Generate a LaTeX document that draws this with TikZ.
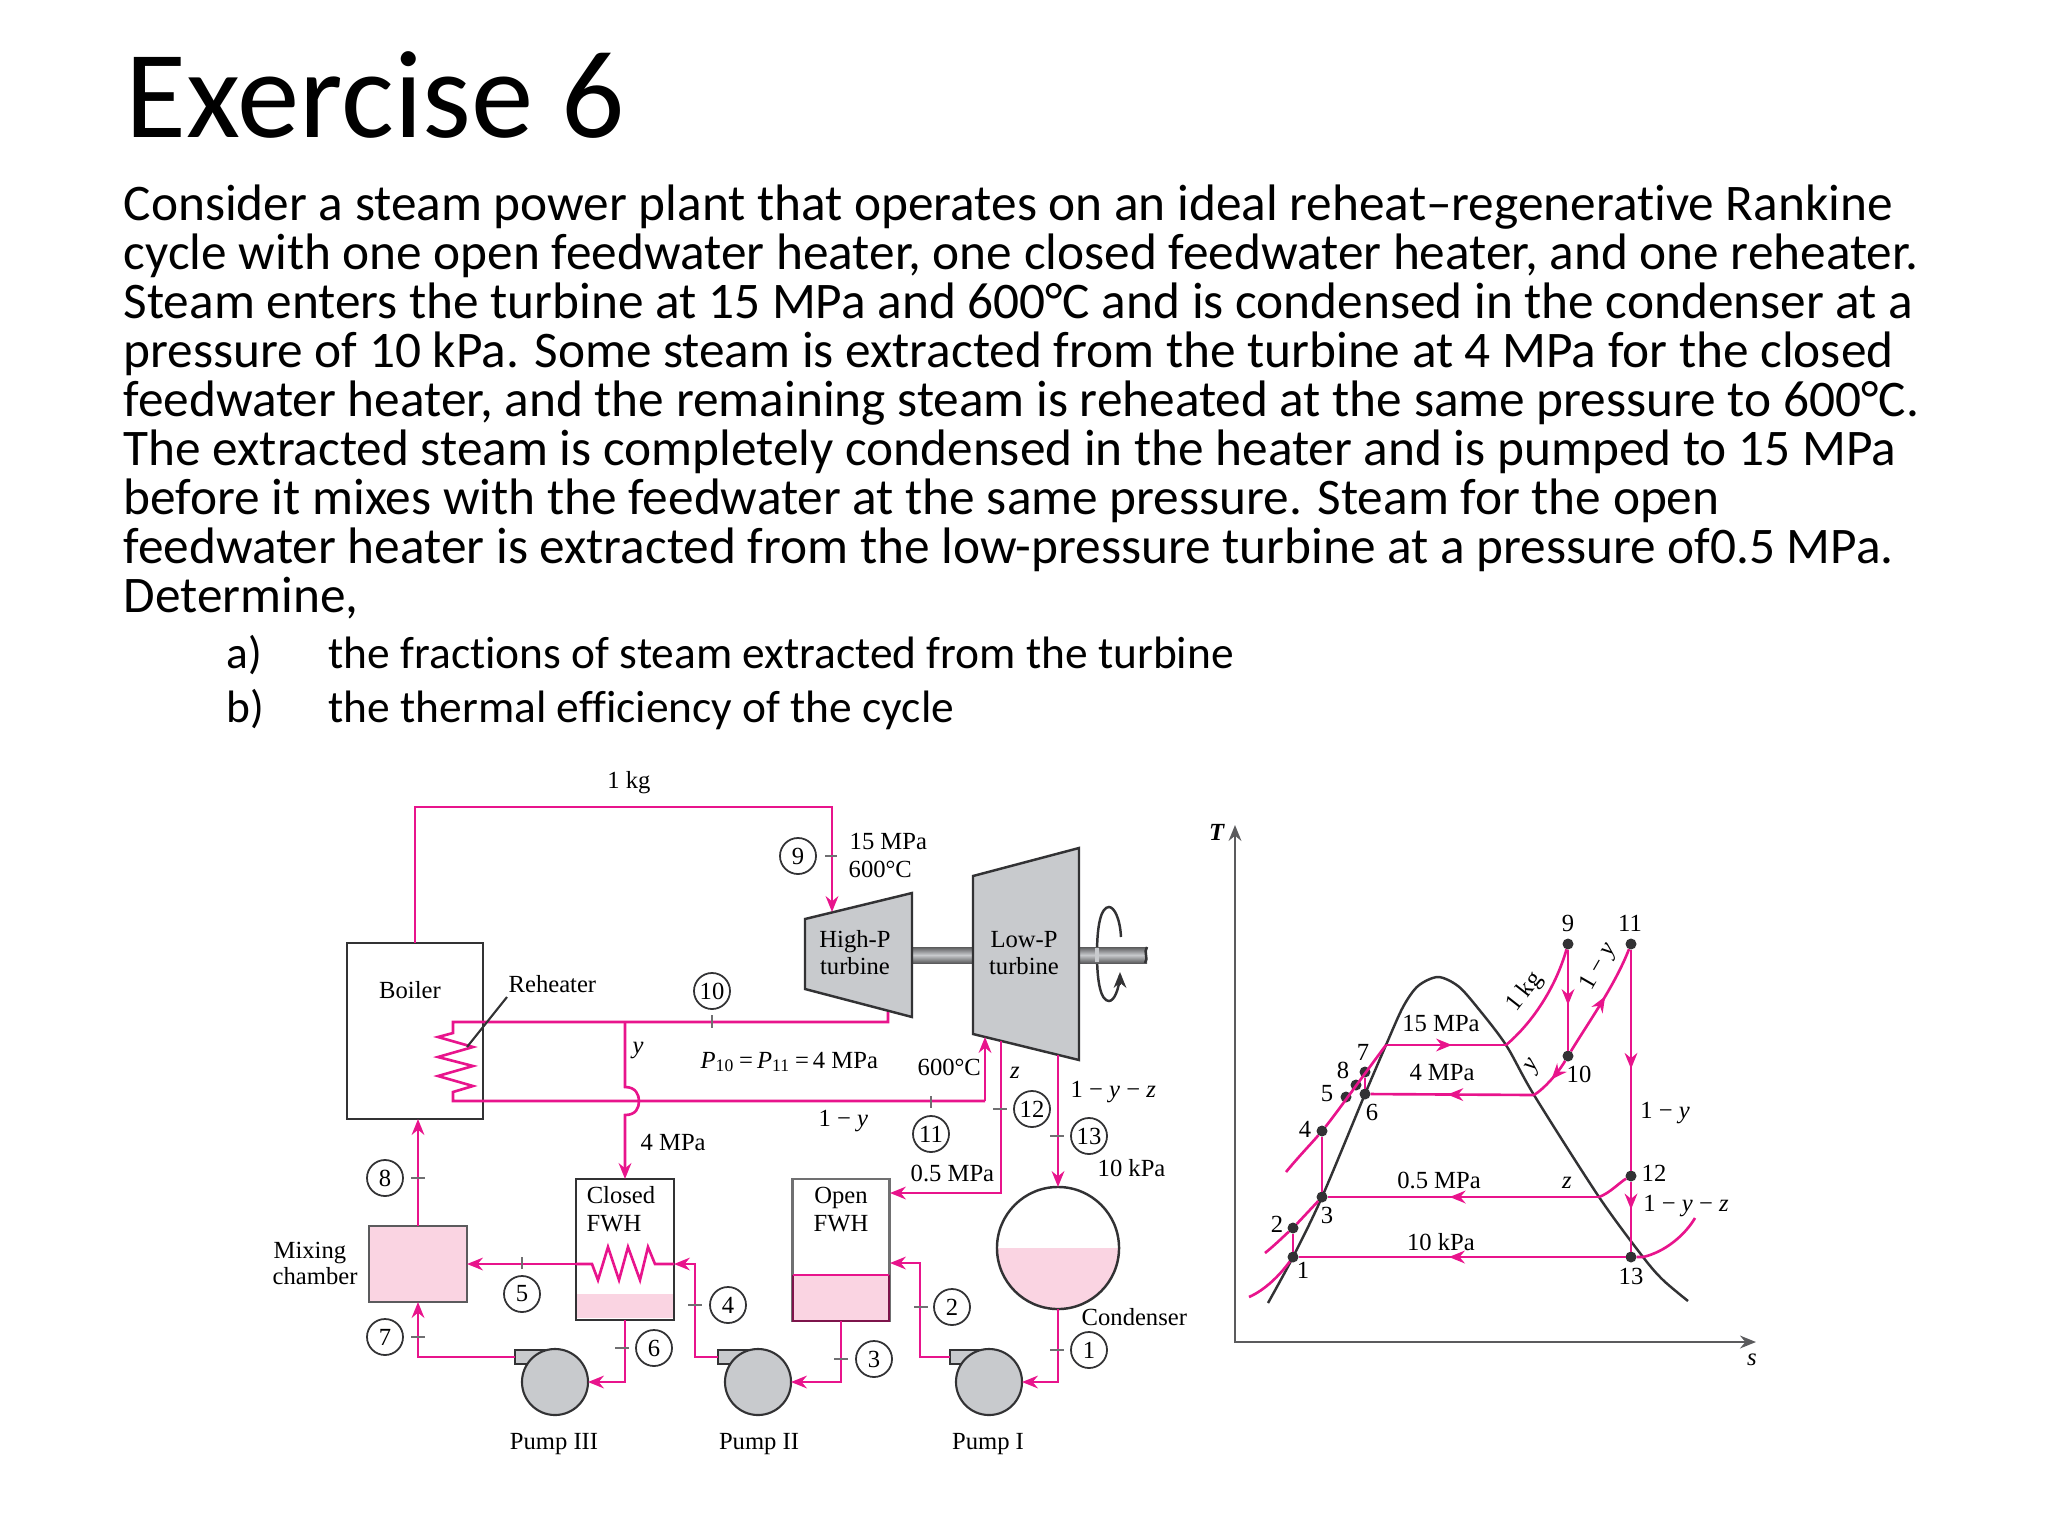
\documentclass[tikz,border=0pt]{standalone}
\usepackage{fontspec}
\setmainfont{Carlito}[Ligatures=NoCommon]
\newfontfamily\figfont{Liberation Serif}
\usetikzlibrary{arrows.meta,decorations.markings}
\definecolor{cpipe}{RGB}{232,20,140}
\definecolor{cpink}{RGB}{250,212,226}
\definecolor{cgris}{RGB}{200,202,205}
\definecolor{cdark}{RGB}{50,50,52}
\definecolor{cwine}{RGB}{125,20,75}
\tikzset{
  pipe/.style={cpipe,line width=0.75pt},
  eqbox/.style={draw=cdark,line width=0.7pt,rectangle,inner sep=0,outer sep=0},
  lbl/.style={inner sep=0,font=\figfont\fontsize{7}{8}\selectfont},
  stnum/.style={circle,draw=cdark,line width=0.5pt,minimum size=0.36cm,inner sep=0,font=\figfont\fontsize{7}{8}\selectfont},
  tick/.style={cdark!70,line width=0.7pt},
  tsdot/.style={circle,fill=cdark,minimum size=0.11cm,inner sep=0,outer sep=0},
  midarrow/.style={postaction={decorate},decoration={markings,mark=at position #1 with {\arrow{Stealth[length=4.5pt,width=3.6pt]}}}}
}
\begin{document}
\begin{tikzpicture}[x=0.01cm,y=-0.01cm,>={Stealth[length=4.5pt,width=3.6pt]}]
\useasboundingbox (0,0) rectangle (2048,1536);
% slide text
\node[anchor=base west,inner sep=0,font=\fontsize{35.5}{40}\selectfont] (title) at (125,137) {Exercise 6};
\node[anchor=north west,inner sep=0,align=left,font=\fontsize{14.59}{13.93}\selectfont] (body) at (123,184) {Consider a steam power plant that operates on an ideal reheat--regenerative Rankine\\
cycle with one open feedwater heater, one closed feedwater heater, and one reheater.\\
Steam enters the turbine at 15 MPa and 600°C and is condensed in the condenser at a\\
pressure of 10 kPa. Some steam is extracted from the turbine at 4 MPa for the closed\\
feedwater heater, and the remaining steam is reheated at the same pressure to 600°C.\\
The extracted steam is completely condensed in the heater and is pumped to 15 MPa\\
before it mixes with the feedwater at the same pressure. Steam for the open\\
feedwater heater is extracted from the low-pressure turbine at a pressure of0.5 MPa.\\
Determine,};
\node[anchor=base west,inner sep=0,font=\fontsize{12.91}{14}\selectfont] (ita) at (226,668) {a)};
\node[anchor=base west,inner sep=0,font=\fontsize{12.91}{14}\selectfont] (itatxt) at (328,668) {the fractions of steam extracted from the turbine};
\node[anchor=base west,inner sep=0,font=\fontsize{12.91}{14}\selectfont] (itb) at (226,722) {b)};
\node[anchor=base west,inner sep=0,font=\fontsize{12.91}{14}\selectfont] (itbtxt) at (328,722) {the thermal efficiency of the cycle};
% equipment
\node[eqbox,minimum width=1.36cm,minimum height=1.76cm] (boiler) at (415,1031) {};
\node[eqbox,fill=cpink,draw=cdark!80,minimum width=0.98cm,minimum height=0.76cm] (mix) at (418,1264) {};
\node[eqbox,minimum width=0.98cm,minimum height=1.41cm] (cfwh) at (625,1249.5) {};
\fill[cpink] (577,1294) rectangle (673,1318);
\node[eqbox,draw=cdark!70,minimum width=0.97cm,minimum height=1.42cm] (ofwh) at (841,1250) {};
\fill[cpink] (793,1275) rectangle (889,1320);
\draw[cwine,line width=0.7pt] (793,1275) |- (889,1321) -- (889,1275);
\draw[pipe] (793,1275) -- (889,1275);
\node[circle,draw=cdark,line width=0.7pt,minimum size=1.22cm,inner sep=0,outer sep=0,path picture={\fill[cpink] (path picture bounding box.west) rectangle (path picture bounding box.south east);}] (cond) at (1058,1248) {};
\node[eqbox,fill=cgris,minimum width=0.4cm,minimum height=0.14cm] (pump3out) at (535,1357) {};
\node[circle,draw=cdark,fill=cgris,line width=0.6pt,minimum size=0.66cm,inner sep=0,outer sep=0] (pump3) at (555,1382) {};
\node[eqbox,fill=cgris,minimum width=0.4cm,minimum height=0.14cm] (pump2out) at (738,1357) {};
\node[circle,draw=cdark,fill=cgris,line width=0.6pt,minimum size=0.66cm,inner sep=0,outer sep=0] (pump2) at (758,1382) {};
\node[eqbox,fill=cgris,minimum width=0.4cm,minimum height=0.14cm] (pump1out) at (970,1357) {};
\node[circle,draw=cdark,fill=cgris,line width=0.6pt,minimum size=0.66cm,inner sep=0,outer sep=0] (pump1) at (989,1382) {};
% turbines and shaft
\shade[top color=cdark!80,bottom color=cdark!80,middle color=cgris] (912,947) rectangle (973,963);
\draw[cdark,line width=0.7pt] (1121,937) .. controls (1120,918) and (1114,907) .. (1109,907) .. controls (1101,907) and (1097,925) .. (1097,954) .. controls (1097,983) and (1101,1001) .. (1109,1001) .. controls (1114,1001) and (1119,990) .. (1120,975);
\draw[cdark,->,line width=0.7pt] (1120,985) -- (1120,972);
\shade[top color=cdark!80,bottom color=cdark!80,middle color=cgris] (1079,947) rectangle (1147,963);
\draw[cdark,line width=0.7pt] (1147,947) .. controls (1143,952) and (1149,958) .. (1145,963);
\draw[cgris,line width=1pt] (1097,948) -- (1097,962);
\draw[fill=cgris,draw=cdark,line width=0.7pt] (805,919) -- (912,893) -- (912,1017) -- (805,989) -- cycle;
\draw[fill=cgris,draw=cdark,line width=0.7pt] (973,876) -- (1079,848) -- (1079,1060) -- (973,1034) -- cycle;
\coordinate (hpin) at (832,912);
\coordinate (hpout) at (888,1012);
\coordinate (lpin) at (985,1037);
\coordinate (lpz) at (1001,1041);
\coordinate (lpex) at (1058,1055);
\coordinate (oin) at (890,1193);
\coordinate (oin2) at (890,1263);
\coordinate (cin) at (674,1264);
\coordinate (cout) at (576,1264);
% pipes
\draw[pipe,->] (boiler.north) |- (hpin |- 0,807) -- (hpin);
\draw[pipe] (hpout) -- (888,1022) -- (453,1022) -- (453,1033) -- (438,1037) -- (473,1047) -- (438,1057) -- (473,1066) -- (438,1076) -- (473,1086) -- (453,1092) -- (453,1101) -- (985,1101);
\draw[pipe,->] (985,1101) -- (lpin);
\draw[pipe,->] (625,1022) -- (625,1087) .. controls (636,1087) and (639,1095) .. (639,1101) .. controls (639,1108) and (636,1115) .. (625,1115) -- (cfwh.north);
\draw[pipe,->] (lpz) |- (oin);
\draw[pipe,->] (lpex) -- (cond.north);
\draw[pipe,->] (cond.south) |- (pump1.east);
\draw[pipe,->] (pump1out.west) -- ++(-30,0) |- (oin2);
\draw[pipe,->] (ofwh.south) |- (pump2.east);
\draw[pipe,->] (pump2out.west) -- ++(-23,0) |- (cin);
\draw[pipe] (cin) -- (655,1264) -- (648,1247) -- (640,1280) -- (628,1247) -- (619,1280) -- (608,1247) -- (598,1280) -- (592,1264) -- (cout);
\draw[pipe,->] (cout) -- (mix.east);
\draw[pipe,->] (cfwh.south) |- (pump3.east);
\draw[pipe,->] (pump3out.west) -| (mix.south);
\draw[pipe,->] (mix.north) -- (mix.north |- boiler.south);
\draw[cdark,line width=0.6pt] (507,997) -- (467,1047);
% state numbers
\node[stnum] (s1) at (1089,1350) {1};
\node[stnum] (s2) at (952,1307) {2};
\node[stnum] (s3) at (874,1359) {3};
\node[stnum] (s4) at (728,1305) {4};
\node[stnum] (s5) at (522,1294) {5};
\node[stnum] (s6) at (654,1348) {6};
\node[stnum] (s7) at (385,1337) {7};
\node[stnum] (s8) at (385,1178) {8};
\node[stnum] (s9) at (798,856) {9};
\node[stnum] (s10) at (712,991) {10};
\node[stnum] (s11) at (931,1134) {11};
\node[stnum] (s12) at (1032,1109) {12};
\node[stnum] (s13) at (1089,1136) {13};
\draw[tick] (1050,1350) -- ++(14,0);
\draw[tick] (914,1307) -- ++(14,0);
\draw[tick] (834,1359) -- ++(14,0);
\draw[tick] (688,1305) -- ++(14,0);
\draw[tick] (522,1257) -- ++(0,12);
\draw[tick] (615,1348) -- ++(14,0);
\draw[tick] (411,1337) -- ++(14,0);
\draw[tick] (411,1178) -- ++(14,0);
\draw[tick] (825,856) -- ++(12,0);
\draw[tick] (712,1015) -- ++(0,13);
\draw[tick] (931,1096) -- ++(0,12);
\draw[tick] (993,1109) -- ++(14,0);
\draw[tick] (1050,1136) -- ++(14,0);
% labels
\node[lbl] (kg) at (629,783) {1 kg};
\node[lbl] (lboiler) at (410,990) {Boiler};
\node[lbl,anchor=base west] (lreh) at (508,992) {Reheater};
\node[lbl,anchor=base west] (lp15) at (849,849) {15 MPa};
\node[lbl,anchor=base west] (lt15) at (848,877) {600°C};
\node[lbl,align=center] (lhp) at (855,953) {High-P\\[-0.3pt]turbine};
\node[lbl,align=center] (llp) at (1024,953) {Low-P\\[-0.3pt]turbine};
\node[lbl] (ly) at (638,1050) {\textit{y}};
\node[lbl,anchor=base west] (lpp) at (700,1068) {\textit{P}\textsubscript{10}\,=\,\textit{P}\textsubscript{11}\,=\,4 MPa};
\node[lbl,anchor=base west] (lt11) at (917,1075) {600°C};
\node[lbl] (lz) at (1015,1073) {\textit{z}};
\node[lbl,anchor=base west] (lyz) at (1070,1097) {1 − \textit{y} − \textit{z}};
\node[lbl,anchor=base west] (ly1) at (818,1126) {1 − \textit{y}};
\node[lbl,anchor=base west] (lm4) at (640,1150) {4 MPa};
\node[lbl,anchor=base west] (lm05) at (910,1181) {0.5 MPa};
\node[lbl,anchor=base west] (lk10) at (1097,1176) {10 kPa};
\node[lbl] (lclosed) at (621,1195) {Closed};
\node[lbl] (lcf) at (614,1224) {FWH};
\node[lbl] (lopen) at (841,1198) {Open};
\node[lbl] (lof) at (841,1224) {FWH};
\node[lbl,anchor=base west] (lmix) at (273,1258) {Mixing};
\node[lbl,anchor=base west] (lcha) at (272,1284) {chamber};
\node[lbl,anchor=base west] (lcond) at (1081,1325) {Condenser};
\node[lbl,anchor=base] (lp3) at (554,1449) {Pump III};
\node[lbl,anchor=base] (lp2) at (759,1449) {Pump II};
\node[lbl,anchor=base] (lp1) at (988,1449) {Pump I};
% T-s diagram
\coordinate (tsT) at (1235,825);
\coordinate (tsO) at (1235,1342);
\coordinate (tsS) at (1756,1342);
\draw[cdark!80,line width=0.8pt,<->] (tsT) -- (tsO) -- (tsS);
\node[lbl] (lT) at (1217,832) {\textit{\textbf{T}}};
\node[lbl] (ls) at (1752,1360) {\textit{s}};
\draw[cdark,line width=0.7pt] plot[smooth] coordinates {(1268,1303) (1293,1257) (1322,1197) (1365,1094) (1386,1045) (1403,1007) (1418,986) (1438,977) (1458,986) (1477,1007) (1506,1045) (1534,1095) (1599,1197) (1643,1257) (1663,1280) (1688,1301)};
\node[tsdot] (p1) at (1293,1257) {};
\node[tsdot] (p2) at (1293,1228) {};
\node[tsdot] (p3) at (1322,1197) {};
\node[tsdot] (p4) at (1322,1131) {};
\node[tsdot] (p5) at (1346,1097) {};
\node[tsdot] (p6) at (1365,1094) {};
\node[tsdot] (p7) at (1365,1072) {};
\node[tsdot] (p8) at (1356,1085) {};
\node[tsdot] (p9) at (1568,944) {};
\node[tsdot] (p10) at (1568,1056) {};
\node[tsdot] (p11) at (1631,944) {};
\node[tsdot] (p12) at (1631,1176) {};
\node[tsdot] (p13) at (1631,1257) {};
\coordinate (f15) at (1386,1045);
\coordinate (g15) at (1506,1045);
\coordinate (g4) at (1534,1095);
\coordinate (g05) at (1599,1197);
\coordinate (g10) at (1643,1257);
\draw[pipe,midarrow=0.55] (f15) -- (g15);
\draw[pipe,midarrow=0.53] (g4) -- (p6);
\draw[pipe,midarrow=0.55] (g05) -- (p3);
\draw[pipe,midarrow=0.54] (p13) -- (p1);
\draw[pipe] (p13) -- (g10) .. controls (1665,1252) and (1685,1235) .. (1695,1218);
\draw[pipe] (g15) .. controls (1530,1025) and (1555,990) .. (p9);
\draw[pipe,midarrow=0.55] (p9) -- (p10);
\draw[pipe,midarrow=0.5] (p10) .. controls (1558,1073) and (1545,1088) .. (g4);
\draw[pipe,midarrow=0.55] (p10) .. controls (1590,1020) and (1615,985) .. (p11);
\draw[pipe,midarrow=0.54] (p11) -- (p12);
\draw[pipe,midarrow=0.4] (p12) -- (p13);
\draw[pipe] (p12) .. controls (1620,1182) and (1610,1193) .. (g05);
\draw[pipe] (1249,1297) .. controls (1265,1290) and (1280,1275) .. (p1);
\draw[pipe] (p1) -- (p2);
\draw[pipe] (1265,1253) .. controls (1275,1245) and (1285,1235) .. (p2) -- (p3);
\draw[pipe] (p3) -- (p4);
\draw[pipe] (p6) -- (p7);
\draw[pipe] (1286,1172) .. controls (1300,1155) and (1310,1145) .. (p4) .. controls (1335,1115) and (1360,1080) .. (f15);
\node[lbl] (n1) at (1303,1270) {1};
\node[lbl] (n2) at (1277,1224) {2};
\node[lbl] (n3) at (1327,1215) {3};
\node[lbl] (n4) at (1305,1129) {4};
\node[lbl] (n5) at (1327,1094) {5};
\node[lbl] (n6) at (1372,1112) {6};
\node[lbl] (n7) at (1363,1052) {7};
\node[lbl] (n8) at (1343,1070) {8};
\node[lbl] (n9) at (1568,923) {9};
\node[lbl] (n10) at (1579,1074) {10};
\node[lbl] (n11) at (1630,923) {11};
\node[lbl] (n12) at (1654,1173) {12};
\node[lbl] (n13) at (1631,1276) {13};
\node[lbl] (m15) at (1441,1023) {15 MPa};
\node[lbl] (m4) at (1442,1073) {4 MPa};
\node[lbl] (m05) at (1439,1180) {0.5 MPa};
\node[lbl] (m10) at (1441,1242) {10 kPa};
\node[lbl,rotate=52] (mkg) at (1525,992) {1 kg};
\node[lbl,rotate=60] (my1) at (1599,967) {1 − \textit{y}};
\node[lbl,rotate=60] (my) at (1534,1066) {\textit{y}};
\node[lbl] (my2) at (1665,1113) {1 − \textit{y}};
\node[lbl] (myz) at (1686,1206) {1 − \textit{y} − \textit{z}};
\node[lbl] (mz) at (1567,1183) {\textit{z}};
\end{tikzpicture}
\end{document}
